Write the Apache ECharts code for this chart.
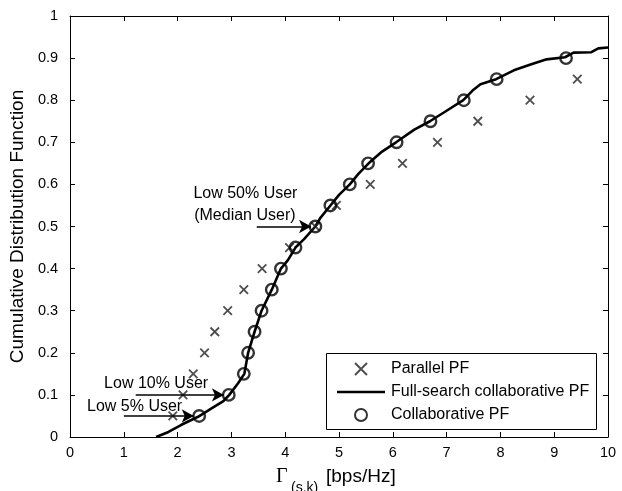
<!DOCTYPE html>
<html><head><meta charset="utf-8">
<script src="https://cdn.jsdelivr.net/npm/echarts@6/dist/echarts.min.js"></script>
<style>html,body{margin:0;padding:0;background:#fff}#c{width:622px;height:491px}</style>
</head><body><div id="c"></div>
<script>
// ---- data ----
const seriesNames = ['Parallel PF', 'Full-search collaborative PF', 'Collaborative PF'];

const parallelX = [1.91, 2.10, 2.29, 2.50, 2.69, 2.93, 3.23, 3.57, 4.08, 4.56, 4.95, 5.58, 6.18, 6.83, 7.58, 8.55, 9.43];
const parallelY = [0.05, 0.10, 0.15, 0.20, 0.25, 0.30, 0.35, 0.40, 0.45, 0.50, 0.55, 0.60, 0.65, 0.70, 0.75, 0.80, 0.85];

const fullX = [1.60, 1.83, 2.07, 2.38, 2.63, 2.85, 2.96, 3.12, 3.24, 3.31, 3.43, 3.56, 3.75, 3.92, 4.05, 4.19, 4.35, 4.56, 4.65, 4.84, 5.00, 5.20, 5.36, 5.55, 5.80, 6.06, 6.40, 6.69, 7.00, 7.31, 7.50, 7.63, 7.92, 8.25, 8.56, 8.86, 9.20, 9.36, 9.69, 9.82, 10.0];
const fullY = [0.000, 0.012, 0.029, 0.048, 0.068, 0.085, 0.100, 0.127, 0.150, 0.200, 0.250, 0.300, 0.350, 0.400, 0.420, 0.450, 0.470, 0.500, 0.520, 0.550, 0.575, 0.600, 0.625, 0.650, 0.678, 0.700, 0.730, 0.750, 0.775, 0.800, 0.825, 0.838, 0.850, 0.871, 0.885, 0.897, 0.902, 0.913, 0.914, 0.923, 0.925];

const collabX = [2.40, 2.95, 3.23, 3.31, 3.43, 3.56, 3.75, 3.92, 4.19, 4.56, 4.84, 5.20, 5.54, 6.07, 6.70, 7.32, 7.93, 9.22];
const collabY = [0.05, 0.10, 0.15, 0.20, 0.25, 0.30, 0.35, 0.40, 0.45, 0.50, 0.55, 0.60, 0.65, 0.70, 0.75, 0.80, 0.85, 0.90];

const annoTexts = ['Low 50% User', '(Median User)', 'Low 10% User', 'Low 5% User'];
const annoPos = [[3.26, 0.577], [3.25, 0.527], [1.60, 0.128], [1.20, 0.072]];
const arrowFrom = [[3.47, 0.5], [1.22, 0.1], [1.00, 0.05]];
const arrowTo = [[4.48, 0.5], [2.86, 0.1], [2.30, 0.05]];

const yTitle = 'Cumulative Distribution Function';
// ---- chart ----
const FONT = '"Liberation Sans", Arial, sans-serif';
const zip = (a, b) => a.map((v, i) => [v, b[i]]);
const chart = echarts.init(document.getElementById('c'), null, {renderer: 'canvas'});

const axisCommon = {
  type: 'value', min: 0, interval: 1,
  axisLine: {show: true, onZero: false, lineStyle: {color: '#000', width: 1}},
  axisTick: {show: true, inside: true, length: 5, lineStyle: {color: '#000'}},
  splitLine: {show: false}
};

const option = {
  animation: false,
  backgroundColor: '#fff',
  grid: {left: 68, right: 14, top: 16, bottom: 54},
  xAxis: [
    Object.assign({}, axisCommon, {max: 10, position: 'bottom',
      axisLabel: {color: '#000', fontSize: 14.5, fontFamily: FONT, margin: 8}}),
    Object.assign({}, axisCommon, {max: 10, position: 'top', axisLabel: {show: false}})
  ],
  yAxis: [
    Object.assign({}, axisCommon, {max: 1, interval: 0.1, position: 'left',
      axisLabel: {color: '#000', fontSize: 14.5, fontFamily: FONT, margin: 12},
      name: yTitle, nameLocation: 'middle', nameGap: 31,
      nameTextStyle: {color: '#000', fontSize: 19, fontFamily: FONT}}),
    Object.assign({}, axisCommon, {max: 1, interval: 0.1, position: 'right', axisLabel: {show: false}})
  ],
  legend: {
    left: 326, top: 361, orient: 'vertical',
    data: [
      {name: seriesNames[0]},
      {name: seriesNames[1], icon: 'path://M0,0L48,0L48,2.6L0,2.6Z', itemStyle: {color: '#000'}},
      {name: seriesNames[2]}
    ],
    itemWidth: 48, itemHeight: 12, itemGap: 7,
    padding: [0, 0, 0, 11],
    textStyle: {color: '#000', fontSize: 16, fontFamily: FONT, padding: [0, 0, 0, 1]},
    selectedMode: false
  },
  series: [
    {
      name: seriesNames[0], type: 'scatter', data: zip(parallelX, parallelY),
      symbol: 'path://M0,0L10,10M10,0L0,10', symbolSize: 8.5,
      itemStyle: {color: 'rgba(0,0,0,0)', borderColor: '#222', borderWidth: 1.8},
      z: 3
    },
    {
      name: seriesNames[1], type: 'line', data: zip(fullX, fullY),
      symbol: 'none', smooth: false,
      lineStyle: {color: '#000', width: 2.6},
      itemStyle: {color: '#000'},
      z: 2,
      markLine: {
        silent: true, symbol: ['none', 'arrow'], symbolSize: [10, 12],
        label: {show: false},
        lineStyle: {color: '#000', width: 1.5, type: 'solid'},
        data: arrowFrom.map((f, i) => [{coord: f}, {coord: arrowTo[i]}])
      }
    },
    {
      name: seriesNames[2], type: 'scatter', data: zip(collabX, collabY),
      symbol: 'circle', symbolSize: 11.5,
      itemStyle: {color: 'rgba(0,0,0,0)', borderColor: '#000', borderWidth: 2.4},
      z: 4
    }
  ]
};
chart.setOption(option);

// legend frame + annotations + x title
const g = [];
g.push({type: 'rect', shape: {x: 326.5, y: 353.5, width: 270, height: 76},
  style: {fill: '#fff', stroke: '#000', lineWidth: 1}, z: 5, zlevel: 0});
annoTexts.forEach((t, i) => {
  const p = chart.convertToPixel({gridIndex: 0}, annoPos[i]);
  g.push({type: 'text', x: p[0], y: p[1], z: 10,
    style: {text: t, fill: '#000', font: '16px ' + FONT, align: 'center', verticalAlign: 'middle'}});
});
g.push({type: 'text', x: 276, y: 477, style: {text: 'Γ', fill: '#000', font: '20px "Liberation Serif", "Times New Roman", serif', align: 'left', verticalAlign: 'middle'}});
g.push({type: 'text', x: 291, y: 488, style: {text: '(s,k)', fill: '#000', font: '14px ' + FONT, align: 'left', verticalAlign: 'middle'}});
g.push({type: 'text', x: 326, y: 477, style: {text: '[bps/Hz]', fill: '#000', font: '19px ' + FONT, align: 'left', verticalAlign: 'middle'}});
chart.setOption({graphic: g, legend: {z: 10}});
</script>
</body></html>
